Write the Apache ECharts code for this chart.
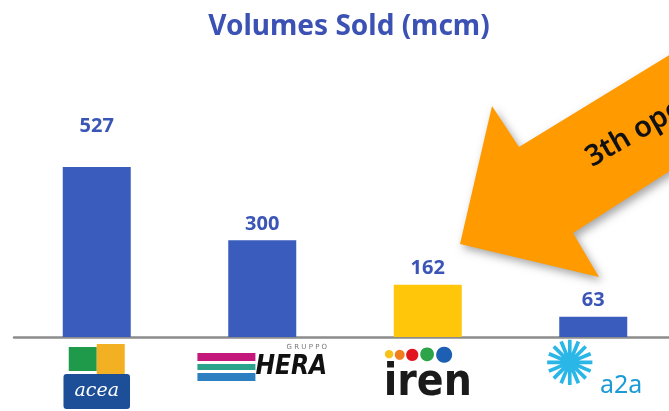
<!DOCTYPE html>
<html>
<head>
<meta charset="utf-8">
<script src="https://cdn.jsdelivr.net/npm/echarts@6/dist/echarts.min.js"></script>
<style>html,body{margin:0;padding:0;background:#fff}#c{width:669px;height:411px}</style>
</head>
<body>
<div id="c"></div>
<script>
// ---- data ----
const categories = ['acea', 'HERA', 'iren', 'a2a'];
const values = [527, 300, 162, 63];
const highlighted = ['iren'];
const titleText = 'Volumes Sold (mcm)';
const arrowText = '3th operator';

// ---- styles ----
const BLUE = '#3A5CBC';
const YELLOW = '#FFC60A';
const ORANGE = '#FF9A00';

const chart = echarts.init(document.getElementById('c'), null, {renderer: 'canvas'});

function logo(v) {
  if (v === 'acea') return '{g| }{y| }\n{ac|acea}';
  if (v === 'HERA') return '{gp|G R U P P O}\n{st| }{h|HERA}';
  if (v === 'iren') return '{d1|●}{d2|●}{d3|●}{d4|●}{d5|●}{pad| }\n{ir|iren}';
  if (v === 'a2a') return '{sun|✺}{a2|a2a}';
  return v;
}

const option = {
  animation: false,
  title: {
    text: titleText,
    left: 344,
    textAlign: 'center',
    top: 8,
    textStyle: {fontFamily: 'Noto Sans', fontWeight: 'bold', fontSize: 28, color: '#3B52B4'}
  },
  grid: {left: 14, width: 662, top: 79, bottom: 74, outerBoundsMode: 'none'},
  xAxis: {
    type: 'category',
    data: categories,
    axisLine: {lineStyle: {color: '#8C8C8C', width: 2.5}},
    axisTick: {show: false},
    axisLabel: {
      margin: 7,
      interval: 0,
      formatter: logo,
      rich: {
        g: {backgroundColor: '#1E9A4A', width: 28, height: 24},
        y: {backgroundColor: '#F4B023', width: 28, height: 30},
        ac: {color: '#fff', backgroundColor: '#1D4E98', fontFamily: 'DejaVu Serif', fontStyle: 'italic', fontSize: 19, padding: [8, 11], borderRadius: 3},
        gp: {color: '#777', fontSize: 7, fontFamily: 'DejaVu Sans', align: 'right', padding: [0, 0, 2, 0]},
        st: {width: 58, height: 28, backgroundColor: {
          type: 'linear', x: 0, y: 0, x2: 0, y2: 1,
          colorStops: [
            {offset: 0, color: '#C4177C'}, {offset: 0.3, color: '#C4177C'},
            {offset: 0.3, color: '#fff'}, {offset: 0.38, color: '#fff'},
            {offset: 0.38, color: '#2AA38C'}, {offset: 0.62, color: '#2AA38C'},
            {offset: 0.62, color: '#fff'}, {offset: 0.7, color: '#fff'},
            {offset: 0.7, color: '#2C7FC1'}, {offset: 1, color: '#2C7FC1'}
          ]}},
        h: {color: '#111', fontFamily: 'DejaVu Sans Condensed', fontWeight: 'bold', fontStyle: 'italic', fontSize: 26},
        d1: {color: '#F7C21A', fontSize: 11, fontFamily: 'DejaVu Sans', verticalAlign: 'middle'},
        d2: {color: '#F07E1E', fontSize: 13, fontFamily: 'DejaVu Sans', verticalAlign: 'middle'},
        d3: {color: '#E2141E', fontSize: 16, fontFamily: 'DejaVu Sans', verticalAlign: 'middle'},
        d4: {color: '#2DA44A', fontSize: 18, fontFamily: 'DejaVu Sans', verticalAlign: 'middle'},
        d5: {color: '#1D5FB3', fontSize: 21, fontFamily: 'DejaVu Sans', verticalAlign: 'middle'},
        pad: {width: 18},
        ir: {color: '#1a1a1a', fontFamily: 'DejaVu Sans Condensed', fontWeight: 'bold', fontSize: 44, lineHeight: 38},
        sun: {color: '#2BB6E8', fontFamily: 'DejaVu Sans', fontSize: 62, verticalAlign: 'bottom', lineHeight: 56},
        a2: {color: '#1C9AD6', fontFamily: 'Noto Sans', fontSize: 25, verticalAlign: 'bottom', padding: [0, 0, 2, 4]}
      }
    }
  },
  yAxis: {type: 'value', min: 0, max: 800, show: false, splitLine: {show: false}},
  series: [{
    type: 'bar',
    barWidth: 68,
    data: values.map((v, i) => ({
      value: v,
      itemStyle: {color: highlighted.includes(categories[i]) ? YELLOW : BLUE},
      label: {distance: i === 0 ? 31 : 6}
    })),
    label: {
      show: true,
      position: 'top',
      color: '#3A55B6',
      fontFamily: 'Noto Sans',
      fontWeight: 'bold',
      fontSize: 20
    }
  }],
  graphic: [
    {
      type: 'polygon',
      shape: {points: [[460, 244], [492, 106], [519, 147], [720, 24], [720, 139], [573, 233], [599, 277]]},
      style: {fill: ORANGE, shadowBlur: 8, shadowOffsetX: 3, shadowOffsetY: 4, shadowColor: 'rgba(0,0,0,0.35)'},
      z: 10
    },
    {
      type: 'text',
      x: 588, y: 160,
      rotation: Math.PI / 180 * 30,
      style: {text: arrowText, fill: '#111', font: '600 29px "Noto Sans"', textAlign: 'left', textVerticalAlign: 'middle'},
      z: 11
    }
  ]
};
chart.setOption(option);
</script>
</body>
</html>
